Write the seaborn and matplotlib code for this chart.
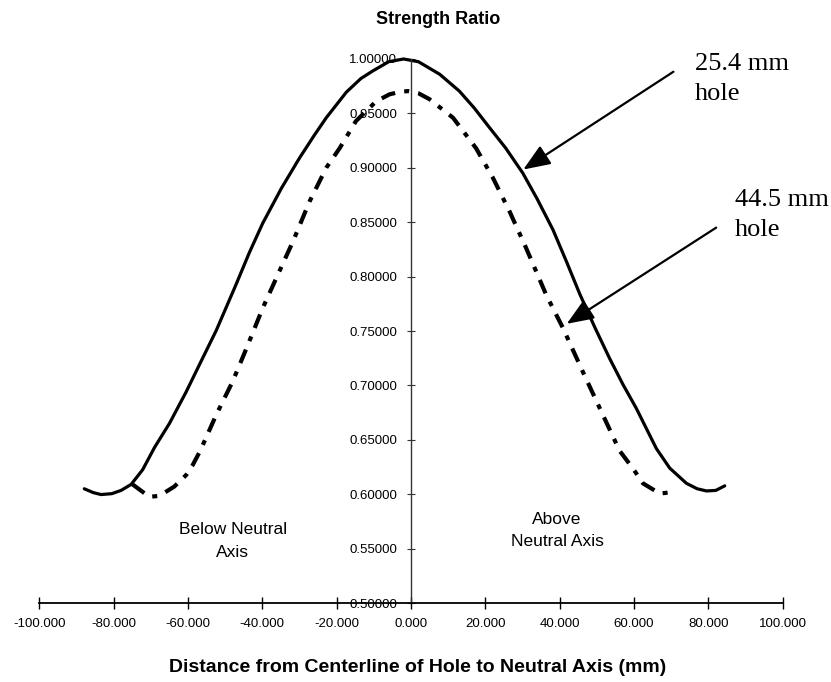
import matplotlib
matplotlib.use("Agg")
import matplotlib.pyplot as plt
import matplotlib.ticker as mticker
import seaborn as sns
import pandas as pd

# ---- data ----
solid_x = [-87.9, -85.5, -83.4, -80.5, -78.0, -75.3, -72.2, -69.0, -65.0, -60.5, -56.5,
           -52.4, -47.1, -43.5, -39.9, -34.9, -30.0, -26.0, -22.8, -17.4, -13.5, -10.3,
           -6.0, -2.0, 2.0, 7.7, 13.0, 17.0, 21.1, 25.5, 30.1, 34.0, 38.2, 41.8, 45.4,
           49.5, 53.4, 57.0, 60.6, 66.0, 69.6, 74.1, 77.0, 79.5, 82.0, 84.4]
solid_y = [0.605, 0.6015, 0.5997, 0.6005, 0.6035, 0.609, 0.6225, 0.643, 0.665, 0.694, 0.722,
           0.7505, 0.7925, 0.822, 0.849, 0.881, 0.909, 0.930, 0.946, 0.9695, 0.982, 0.989,
           0.9975, 1.000, 0.9975, 0.986, 0.9705, 0.955, 0.937, 0.918, 0.895, 0.871, 0.843, 0.814, 0.784,
           0.753, 0.725, 0.701, 0.679, 0.642, 0.624, 0.610, 0.605, 0.603, 0.6035, 0.6077]

dashed_x = [-74.9, -70.4, -67.7, -63.7, -60.5, -58.7, -56.7, -52.4, -48.0, -44.4, -39.9,
            -35.4, -31.8, -27.3, -22.8, -19.2, -14.8, -9.4, -5.8, -3.0, -0.8, 2.0, 5.0, 11.3,
            17.5, 22.0, 26.5, 31.0, 36.4, 40.9, 46.2, 51.6, 56.1, 59.7, 62.4, 66.9, 70.5]
dashed_y = [0.609, 0.5976, 0.5985, 0.607, 0.6176, 0.627, 0.640, 0.673, 0.7035, 0.733, 0.771,
            0.805, 0.832, 0.869, 0.900, 0.918, 0.943, 0.961, 0.9675, 0.9698, 0.9705, 0.9685, 0.963, 0.946,
            0.918, 0.891, 0.860, 0.826, 0.783, 0.7526, 0.7127, 0.673, 0.640, 0.6237, 0.610, 0.6006, 0.602]

x_ticks = [-100, -80, -60, -40, -20, 0, 20, 40, 60, 80, 100]
y_ticks = [0.50, 0.55, 0.60, 0.65, 0.70, 0.75, 0.80, 0.85, 0.90, 0.95, 1.00]

title = "Strength Ratio"
xlabel = "Distance from Centerline of Hole to Neutral Axis (mm)"
label_small = "25.4 mm\nhole"
label_large = "44.5 mm\nhole"
label_below = "Below Neutral\nAxis"
label_above = "Above\nNeutral Axis"

# ---- plotting ----
sns.set_style("white")
plt.rcParams["font.family"] = ["Liberation Sans", "DejaVu Sans"]
plt.rcParams["text.color"] = "black"
plt.rcParams["xtick.color"] = "black"
plt.rcParams["ytick.color"] = "black"

fig = plt.figure(figsize=(8.31, 6.82), dpi=100)
ax = fig.add_axes([0.0473, 0.1158, 0.8946, 0.7977])

df_s = pd.DataFrame({"x": solid_x, "y": solid_y})
df_d = pd.DataFrame({"x": dashed_x, "y": dashed_y})
sns.lineplot(data=df_s, x="x", y="y", ax=ax, color="black", lw=2.3,
             sort=False, estimator=None, clip_on=False,
             solid_joinstyle="round", solid_capstyle="round")
sns.lineplot(data=df_d, x="x", y="y", ax=ax, color="black", lw=3.0,
             sort=False, estimator=None, clip_on=False,
             linestyle=(0, (3.5, 2.2, 1.2, 2.2)))

ax.set_xlim(-100, 100)
ax.set_ylim(0.5, 1.0)
ax.set_xticks(x_ticks)
ax.set_yticks(y_ticks)
ax.xaxis.set_major_formatter(mticker.FormatStrFormatter("%.3f"))
ax.yaxis.set_major_formatter(mticker.FormatStrFormatter("%.5f"))

for s in ["top", "right"]:
    ax.spines[s].set_visible(False)
ax.spines["left"].set_position(("data", 0))
ax.spines["bottom"].set_position(("data", 0.5))
ax.spines["left"].set_color("#333333")
ax.spines["left"].set_linewidth(1.0)
ax.spines["bottom"].set_color("black")
ax.spines["bottom"].set_linewidth(1.3)

ax.tick_params(axis="x", bottom=True, direction="inout", length=8, width=1.0,
               color="black", labelsize=9.5, labelcolor="black", pad=7)
ax.tick_params(axis="y", left=True, direction="inout", length=6, width=0.8,
               color="#333333", labelsize=9.5, labelcolor="black", pad=7)
ax.set_xlabel("")
ax.set_ylabel("")
ax.grid(False)

fig.text(438 / 831, 1 - 20 / 682, title, ha="center", va="center",
         fontsize=13, fontweight="bold")
fig.text(418 / 831, 1 - 668 / 682, xlabel, ha="center", va="center",
         fontsize=14, fontweight="bold")

ax.text(-47.9, 0.557, label_below, ha="center", va="center", fontsize=12.5,
        linespacing=1.6)
ax.text(39.3, 0.567, label_above, ha="center", va="center", fontsize=12.5,
        linespacing=1.6)

serif = ["Liberation Serif", "DejaVu Serif"]
ax.text(76.4, 0.9816, label_small, ha="left", va="center", fontsize=19,
        family=serif, linespacing=1.45)
ax.text(87.2, 0.8564, label_large, ha="left", va="center", fontsize=19,
        family=serif, linespacing=1.45)

arrow = dict(arrowstyle="-|>,head_length=0.55,head_width=0.22", color="black",
             lw=1.6, shrinkA=0, shrinkB=0, mutation_scale=30)
ax.annotate("", xy=(30.2, 0.8984), xytext=(70.6, 0.9883), arrowprops=arrow,
            annotation_clip=False)
ax.annotate("", xy=(41.9, 0.7566), xytext=(82.1, 0.845), arrowprops=arrow,
            annotation_clip=False)

fig.savefig("out.png", dpi=100)
